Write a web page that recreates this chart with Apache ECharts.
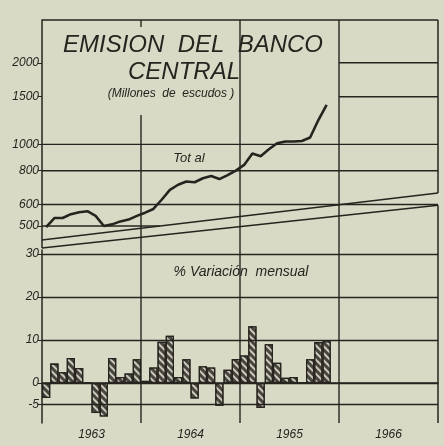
<!DOCTYPE html>
<html><head><meta charset="utf-8">
<script src="https://cdn.jsdelivr.net/npm/echarts@6/dist/echarts.min.js"></script>
<style>html,body{margin:0;padding:0;background:#d8dac6;}#c{width:444px;height:446px;}</style>
</head><body><div id="c"></div>
<script>
// ---- data ----
const years = ['1963', '1964', '1965', '1966'];
const months = ['Ene', 'Feb', 'Mar', 'Abr', 'May', 'Jun', 'Jul', 'Ago', 'Sep', 'Oct', 'Nov', 'Dic'];
const totalTicks = [500, 600, 800, 1000, 1500, 2000];
const pctTicks = [-5, 0, 10, 20, 30];
// Emisión total, millones de escudos (Ene 1963 - Nov 1965)
const total = [495, 535, 535, 553, 562, 567, 545, 500, 507, 520, 528, 545,
               560, 578, 625, 680, 710, 730, 725, 750, 765, 745, 770, 800,
               840, 925, 905, 960, 1010, 1025, 1025, 1030, 1060, 1230, 1400];
// % variación mensual
const pctChange = [-3.5, 4.5, 2.5, 5.8, 3.5, 0, -7, -7.8, 5.8, 1.4, 2.2, 5.5,
                   0.5, 3.6, 9.6, 11, 1.4, 5.5, -3.6, 3.9, 3.6, -5.3, 3.1, 5.6,
                   6.4, 13.2, -5.8, 9, 4.7, 1.2, 1.4, 0, 5.5, 9.5, 9.7];

const categories = [];
years.forEach(y => months.forEach(m => categories.push(m + ' ' + y)));

// ---- style / layout ----
const ink = '#27241f';
const bg = '#d8dac6';
const font = "'Liberation Sans', Arimo, sans-serif";
const topRange = [444, 2877];
const botRange = [-9.3, 30.9];
const slantUpper = [444, 662];   // top panel lower edge (value at left / right)
const slantLower = [415, 597];   // bottom panel upper edge
const dividerStart1964 = 1285;

const chart = echarts.init(document.getElementById('c'), null, {renderer: 'canvas'});

const labelStyle = {color: ink, fontStyle: 'italic', fontFamily: font, fontSize: 12, margin: 3,
                    formatter: v => String(v)};

const option = {
  backgroundColor: bg,
  animation: false,
  grid: [
    {left: 42, right: 6, top: 20, bottom: 206},
    {left: 42, right: 6, top: 250, bottom: 23}
  ],
  xAxis: [
    {type: 'category', gridIndex: 0, data: categories, boundaryGap: true,
     axisLine: {show: false}, axisTick: {show: false}, axisLabel: {show: false}, splitLine: {show: false}},
    {type: 'category', gridIndex: 1, data: categories, boundaryGap: true, position: 'bottom',
     axisLine: {lineStyle: {color: ink, width: 1.5}},
     axisTick: {inside: true, length: 8, interval: 0, lineStyle: {color: ink, width: 1}},
     axisLabel: {show: false}, splitLine: {show: false}},
    {type: 'category', gridIndex: 1, data: years, boundaryGap: true, position: 'bottom',
     axisLine: {show: false}, axisTick: {show: false}, splitLine: {show: false},
     axisLabel: {color: ink, fontStyle: 'italic', fontFamily: font, fontSize: 12, margin: 6}}
  ],
  yAxis: [
    {type: 'log', gridIndex: 0, min: topRange[0], max: topRange[1], logBase: 10,
     axisLine: {show: true, lineStyle: {color: ink, width: 1.5}},
     axisTick: {show: true, customValues: totalTicks, length: 4, lineStyle: {color: ink}},
     axisLabel: Object.assign({customValues: totalTicks}, labelStyle),
     splitLine: {show: false}},
    {type: 'value', gridIndex: 1, min: botRange[0], max: botRange[1],
     axisLine: {show: true, lineStyle: {color: ink, width: 1.5}},
     axisTick: {show: true, customValues: pctTicks, length: 4, lineStyle: {color: ink}},
     axisLabel: Object.assign({customValues: pctTicks}, labelStyle),
     splitLine: {show: false}}
  ],
  series: [
    {name: 'Total', type: 'line', xAxisIndex: 0, yAxisIndex: 0, data: total,
     symbol: 'none', lineStyle: {color: ink, width: 2.6}, z: 5},
    {name: '% Variación mensual', type: 'bar', xAxisIndex: 1, yAxisIndex: 1, data: pctChange,
     barCategoryGap: '0%',
     itemStyle: {color: '#4a453e', borderColor: ink, borderWidth: 1.3,
       decal: {symbol: 'rect', symbolSize: 1, color: 'rgba(225,226,210,0.85)',
               dashArrayX: [1, 0], dashArrayY: [2, 3], rotation: Math.PI / 4}},
     markLine: {silent: true, symbol: 'none', label: {show: false},
       lineStyle: {color: ink, width: 1.3, type: 'solid'},
       data: pctTicks.map(v => ({yAxis: v}))}}
  ]
};
chart.setOption(option);

// ---- frame & partial grid lines from the axes' own scales ----
const c0 = chart.convertToPixel({xAxisIndex: 0}, 0);
const c1 = chart.convertToPixel({xAxisIndex: 0}, 1);
const bw = c1 - c0;
const bx = k => c0 - bw / 2 + k * bw;
const yt = v => chart.convertToPixel({yAxisIndex: 0}, v);
const yb = v => chart.convertToPixel({yAxisIndex: 1}, v);
const xL = bx(0), xR = bx(48);
const yTop = yt(topRange[1]);
const yBot = yb(botRange[0]);
const ln = (x1, y1, x2, y2, w) => ({type: 'line', silent: true, z: 3,
  shape: {x1, y1, x2, y2}, style: {stroke: ink, lineWidth: w || 1.4}});

const g = [];
g.push(ln(xL, yTop, xR, yTop, 1.5));
g.push(ln(xR, yTop, xR, yt(slantUpper[1]), 1.5));
g.push(ln(xL, yt(slantUpper[0]), xR, yt(slantUpper[1]), 1.5));
g.push(ln(xL, yt(slantLower[0]), xR, yt(slantLower[1]), 1.5));
g.push(ln(xR, yt(slantLower[1]), xR, yBot, 1.5));
g.push(ln(xL, yt(slantUpper[0]), xL, yt(slantLower[0]), 1.5));
[1000, 800, 600].forEach(v => g.push(ln(xL, yt(v), xR, yt(v))));
// 500 line runs until it meets the slanted edge
{
  const y500 = yt(500), yl = yt(slantUpper[0]), yr = yt(slantUpper[1]);
  const xi = xL + (xR - xL) * (yl - y500) / (yl - yr);
  g.push(ln(xL, y500, xi, y500));
}
[2000, 1500].forEach(v => g.push(ln(bx(36), yt(v), xR, yt(v))));
g.push(ln(bx(12), yt(dividerStart1964), bx(12), yBot));
g.push(ln(bx(12), yTop, bx(12), yTop + 7));
g.push(ln(bx(24), yTop, bx(24), yBot));
g.push(ln(bx(36), yTop, bx(36), yBot));

const txt = (text, x, y, size) => ({type: 'text', silent: true, z: 6, x, y,
  style: {text, fill: ink, font: `italic ${size}px ${font}`, textAlign: 'center', textVerticalAlign: 'middle'}});
g.push(txt('EMISION  DEL  BANCO', 193, 45, 24));
g.push(txt('CENTRAL', 184, 72, 24));
g.push(txt('(Millones  de  escudos )', 171, 94, 12));
g.push(txt('Tot al', 189, 158, 13));
g.push(txt('% Variación  mensual', 241, 272, 14));

chart.setOption({graphic: g});
</script>
</body></html>
